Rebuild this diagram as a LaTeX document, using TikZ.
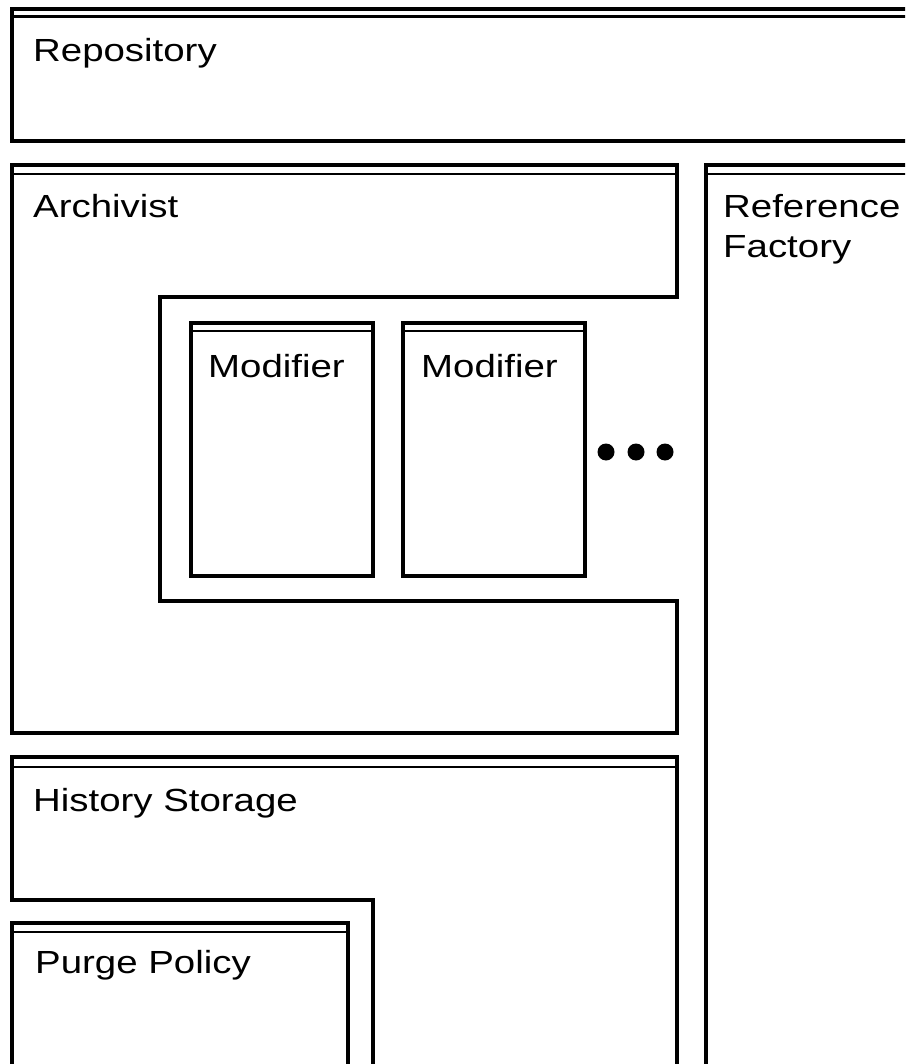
\documentclass[tikz,border=0pt]{standalone}
\usepackage{fontspec}
\newfontfamily\boxfont{Liberation Sans}[FakeStretch=1.2]
\usepackage{tikz}

\tikzset{
  frame/.style={draw, line width=3.2pt, line join=miter},
  bar/.style={draw, line width=2.8pt},
  lbl/.style={anchor=base west, inner sep=0pt, align=left, font=\boxfont\fontsize{32}{40}\selectfont},
  dot/.style={fill, circle, inner sep=0pt, minimum size=17pt}
}

\begin{document}
\begin{tikzpicture}[x=1pt,y=-1pt]
	\useasboundingbox (0,0) rectangle (905,1064);
	\clip (0,0) rectangle (905,1064);
	%
	%  FRAMES
	%
	\draw[frame] (930,9) -- (12,9) -- (12,141) -- (930,141);
	\draw[bar] (12,16.5) -- (930,16.5);
	% archivist
	\draw[frame] (12,165) -- (677,165) -- (677,297) -- (160,297) -- (160,601)
		-- (677,601) -- (677,733) -- (12,733) -- cycle;
	\draw[bar] (12,174) -- (677,174);
	% reference factory
	\draw[frame] (706,1090) -- (706,165) -- (930,165);
	\draw[bar] (706,174) -- (930,174);
	% modifiers
	\draw[frame] (191,323) rectangle (373,576);
	\draw[bar] (191,331) -- (373,331);
	\draw[frame] (403,323) rectangle (585,576);
	\draw[bar] (403,331) -- (585,331);
	% history storage
	\draw[frame] (677,1090) -- (677,757) -- (12,757) -- (12,900) -- (373,900) -- (373,1090);
	\draw[bar] (12,767) -- (677,767);
	% purge policy
	\draw[frame] (12,1090) -- (12,923) -- (348,923) -- (348,1090);
	\draw[bar] (12,932) -- (348,932);
	%
	%  LABELS
	%
	\node[lbl] (repo) at (33,62) {Repository};
	\node[lbl] (arch) at (33,218) {Archivist};
	\node[lbl] (reff) at (723,258) {Reference\\Factory};
	\node[lbl] (mod1) at (208,377) {Modifier};
	\node[lbl] (mod2) at (421,377) {Modifier};
	\node[lbl] (hist) at (33,811) {History Storage};
	\node[lbl] (purge) at (35,973) {Purge Policy};
	%
	\node[dot] (d1) at (606,452) {};
	\node[dot] (d2) at (636,452) {};
	\node[dot] (d3) at (665,452) {};
\end{tikzpicture}
\end{document}
